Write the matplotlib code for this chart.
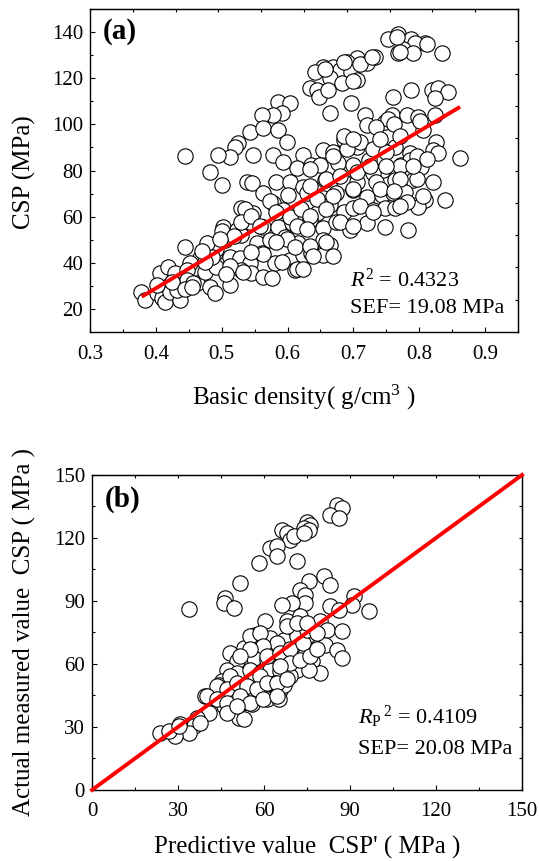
import numpy as np
import matplotlib
matplotlib.use("Agg")
import matplotlib.pyplot as plt

plt.rcParams['font.family'] = ['Liberation Serif', 'DejaVu Serif']
plt.rcParams['mathtext.fontset'] = 'custom'
plt.rcParams['mathtext.rm'] = 'Liberation Serif'
plt.rcParams['mathtext.it'] = 'Liberation Serif:italic'
plt.rcParams['mathtext.bf'] = 'Liberation Serif:bold'

# ---- panel (a): basic density vs CSP ----
# upper band
dens_up = [0.768, 0.753, 0.788, 0.809, 0.793, 0.776, 0.791, 0.768, 0.834, 0.733,
           0.705, 0.690, 0.720, 0.654, 0.669, 0.642, 0.680, 0.697, 0.664, 0.682,
           0.705, 0.634, 0.644, 0.647, 0.662, 0.664, 0.657, 0.685, 0.710, 0.700,
           0.728, 0.766, 0.771, 0.811]
csp_up = [139.3, 136.8, 136.8, 135.4, 135.4, 132.5, 131.1, 131.1, 131.1, 129.3,
          128.6, 127.2, 126.4, 125.0, 125.0, 122.8, 123.5, 122.8, 119.9, 117.8,
          119.2, 115.6, 114.9, 112.0, 114.9, 104.8, 124.0, 126.9, 126.1, 118.9,
          129.0, 137.7, 131.2, 134.8]
# upper-left band
dens_mid = [0.586, 0.604, 0.591, 0.578, 0.561, 0.543, 0.563, 0.586, 0.599, 0.525,
            0.520, 0.513, 0.548, 0.495, 0.444, 0.482, 0.500, 0.578, 0.593]
csp_mid = [109.8, 109.1, 104.8, 104.0, 104.0, 96.8, 98.3, 97.5, 92.5, 91.8,
           90.3, 86.0, 86.7, 86.7, 86.4, 79.5, 73.7, 86.7, 83.8]
# upper-right band
dens_right = [0.760, 0.788, 0.819, 0.829, 0.844, 0.824, 0.697, 0.717, 0.758, 0.781,
              0.798, 0.824, 0.720, 0.748, 0.806, 0.826, 0.821, 0.829, 0.862, 0.753,
              0.801, 0.735, 0.761, 0.685, 0.700, 0.740, 0.771, 0.811, 0.791]
csp_right = [112.0, 114.9, 114.9, 115.6, 114.2, 111.3, 109.1, 104.0, 104.0, 104.0,
             103.3, 104.0, 99.7, 101.2, 97.5, 92.5, 88.9, 87.4, 85.3, 102.3,
             101.6, 98.7, 100.1, 95.1, 93.6, 93.6, 95.1, 85.0, 82.1]
# main band
dens_main = [0.685, 0.705, 0.740, 0.763, 0.786, 0.654, 0.624, 0.669, 0.614, 0.636,
             0.649, 0.677, 0.700, 0.723, 0.745, 0.773, 0.803, 0.730, 0.786, 0.538,
             0.546, 0.583, 0.604, 0.624, 0.657, 0.685, 0.705, 0.735, 0.763, 0.791,
             0.821, 0.563, 0.601, 0.629, 0.654, 0.674, 0.700, 0.720, 0.743, 0.760,
             0.778, 0.801, 0.809, 0.839, 0.798, 0.530, 0.548, 0.578, 0.593, 0.616,
             0.644, 0.664, 0.685, 0.700, 0.730, 0.748, 0.763, 0.502, 0.523, 0.543,
             0.563, 0.586, 0.606, 0.634, 0.654, 0.674, 0.695, 0.720, 0.748, 0.783,
             0.487, 0.505, 0.530, 0.553, 0.573, 0.596, 0.616, 0.634, 0.654, 0.664,
             0.631, 0.467, 0.490, 0.513, 0.528, 0.543, 0.561, 0.581, 0.604, 0.624,
             0.636, 0.654, 0.591, 0.611, 0.452, 0.406, 0.419, 0.429, 0.447, 0.462,
             0.475, 0.492, 0.513, 0.482, 0.530, 0.545, 0.563, 0.576, 0.444, 0.490,
             0.437, 0.447, 0.378, 0.384, 0.401, 0.409, 0.414, 0.421, 0.437, 0.432,
             0.457, 0.500, 0.518, 0.535, 0.530, 0.545, 0.558, 0.573, 0.583, 0.604,
             0.621, 0.614, 0.599, 0.583, 0.563, 0.545, 0.513, 0.492, 0.485, 0.475,
             0.507, 0.533, 0.611, 0.614, 0.634, 0.669, 0.690, 0.710, 0.730, 0.750,
             0.771, 0.796, 0.634, 0.659, 0.680, 0.705, 0.725, 0.750, 0.771, 0.796,
             0.644, 0.669, 0.700, 0.740, 0.761, 0.781, 0.806, 0.634, 0.659, 0.710,
             0.730, 0.771, 0.629, 0.680, 0.700, 0.634, 0.659, 0.639, 0.669, 0.624,
             0.478, 0.497, 0.470, 0.401, 0.424, 0.445, 0.455]
csp_main = [93.2, 90.3, 89.6, 90.3, 87.4, 88.9, 86.7, 88.2, 80.9, 82.4,
            82.4, 83.1, 82.4, 84.5, 80.2, 82.4, 81.7, 78.8, 84.5, 75.2,
            74.5, 75.2, 75.2, 73.0, 75.9, 75.2, 75.2, 75.2, 75.9, 75.9,
            75.2, 70.1, 69.4, 70.1, 67.9, 70.1, 71.5, 68.7, 69.4, 70.1,
            70.8, 65.8, 67.2, 67.2, 64.3, 63.6, 61.4, 65.8, 62.9, 60.7,
            61.4, 65.0, 62.2, 63.6, 62.9, 63.6, 63.6, 55.7, 54.2, 57.8,
            55.7, 55.7, 57.1, 58.5, 54.9, 57.8, 54.2, 57.1, 55.7, 54.2,
            47.7, 49.9, 52.0, 48.4, 49.9, 51.3, 48.4, 47.0, 49.9, 47.7,
            44.1, 41.9, 44.1, 42.6, 41.9, 39.8, 44.1, 39.8, 41.2, 43.4,
            44.1, 43.4, 40.5, 36.9, 39.8, 35.4, 38.3, 35.4, 36.9, 31.1,
            36.1, 38.3, 30.4, 29.6, 36.9, 35.4, 34.0, 33.3, 47.0, 26.8,
            30.4, 32.5, 27.5, 23.9, 26.8, 24.6, 23.1, 27.5, 23.9, 28.2,
            31.1, 53.9, 51.8, 63.3, 57.5, 60.4, 56.1, 66.9, 61.9, 59.7,
            63.3, 56.1, 50.3, 48.9, 43.8, 44.5, 38.7, 46.0, 42.4, 40.2,
            35.1, 35.9, 46.7, 37.3, 80.6, 86.4, 89.3, 92.2, 89.3, 87.9,
            82.1, 86.4, 73.4, 76.3, 77.8, 79.2, 82.1, 82.1, 76.3, 76.3,
            67.6, 69.1, 72.0, 72.0, 71.3, 66.2, 69.1, 60.4, 63.3, 64.8,
            61.9, 64.8, 54.6, 57.5, 56.1, 47.4, 48.9, 43.1, 43.1, 37.3,
            48.6, 50.5, 45.2, 30.2, 31.5, 28.5, 29.5]
fit_a_x = [0.3785, 0.862]
fit_a_y = [25.3, 107.6]

# ---- panel (b): predicted vs measured CSP ----
pred = [85.5, 87.2, 83.1, 86.0, 75.0, 76.2, 73.8, 75.6, 66.3, 68.0,
        69.2, 70.3, 73.8, 62.2, 64.5, 64.5, 58.1, 71.5, 51.7, 46.5,
        45.9, 49.4, 33.7, 75.6, 80.8, 83.1, 72.7, 74.4, 74.4, 69.8,
        66.3, 91.3, 90.7, 96.5, 83.1, 86.0, 60.5, 68.0, 72.7, 69.2,
        73.8, 79.7, 82.0, 87.2, 57.0, 62.2, 66.9, 75.0, 81.4, 85.5,
        87.2, 48.3, 52.9, 57.6, 60.5, 56.4, 61.1, 64.5, 69.2, 73.8,
        76.7, 71.5, 79.7, 75.6, 50.6, 47.1, 50.6, 55.2, 58.7, 62.2,
        65.7, 69.2, 63.9, 60.5, 57.0, 52.9, 48.3, 45.3, 44.2, 65.7,
        66.9, 39.5, 42.4, 45.9, 49.4, 54.1, 57.0, 61.1, 65.1, 55.8,
        52.3, 47.1, 45.9, 40.7, 51.2, 52.9, 30.8, 36.6, 35.5, 33.7,
        29.1, 23.8, 26.7, 37.8, 30.2, 55.1, 58.6, 64.4, 59.8, 55.1,
        51.6, 60.9, 65.6, 69.1, 71.4, 73.7, 74.9, 78.4, 67.9, 71.4,
        74.9, 69.1, 72.6, 76.0, 78.4, 48.1, 58.6, 65.6, 43.5, 47.0,
        50.5, 54.0, 57.4, 60.9, 64.4, 67.9, 40.0, 43.5, 47.0, 51.6,
        55.1, 59.8, 64.4, 47.0, 50.5]
meas = [135.7, 134.2, 131.0, 129.4, 127.8, 126.2, 124.7, 123.9, 123.9, 122.3,
        119.1, 120.7, 122.3, 115.2, 116.0, 111.2, 108.3, 108.8, 98.5, 91.4,
        89.0, 86.6, 86.2, 99.3, 101.7, 97.7, 95.4, 93.0, 89.0, 89.0,
        88.2, 92.2, 88.2, 85.1, 87.4, 85.9, 80.3, 80.3, 82.7, 77.2,
        77.9, 80.3, 76.4, 75.6, 74.0, 72.4, 71.6, 73.2, 69.2, 66.8,
        62.9, 65.3, 67.6, 70.0, 67.6, 62.9, 62.1, 66.8, 62.9, 63.7,
        61.3, 57.3, 55.8, 57.3, 61.3, 57.3, 55.8, 57.3, 55.8, 57.3,
        56.5, 54.2, 51.0, 50.2, 52.6, 50.2, 48.6, 51.8, 50.2, 47.8,
        50.2, 44.7, 43.9, 45.5, 43.1, 44.7, 47.0, 43.1, 43.1, 40.7,
        41.5, 37.5, 39.9, 36.7, 34.4, 33.6, 31.2, 34.4, 30.4, 27.2,
        25.7, 27.2, 28.0, 32.0, 30.4, 73.2, 74.8, 70.0, 68.5, 66.9,
        63.7, 63.7, 65.3, 66.9, 73.2, 70.0, 76.4, 74.8, 78.0, 79.5,
        79.5, 60.5, 62.1, 63.7, 66.9, 54.2, 54.2, 59.0, 49.4, 47.9,
        51.0, 49.4, 47.9, 51.0, 51.0, 52.6, 44.7, 43.1, 41.5, 44.7,
        41.5, 43.1, 44.7, 36.8, 39.9]
ref_line = [0, 150]

fig = plt.figure(figsize=(5.39, 8.61), dpi=100)
ax1 = fig.add_axes([0.1670, 0.6144, 0.7941, 0.3751])
ax2 = fig.add_axes([0.1707, 0.0825, 0.7978, 0.3659])

mk = dict(s=122, facecolor='white', edgecolor='black', linewidths=0.8, zorder=2)


def frame_ticks(ax, xlim, ylim):
    # Origin-style extra ticks on top / right at every tenth of the frame
    ax.tick_params(which='both', direction='in', top=False, right=False,
                   labelsize=15, width=0.8)
    ax.tick_params(which='major', length=3.5)
    ax.tick_params(which='minor', length=2.2)
    ax.tick_params(axis='y', which='major', pad=5)
    ax.tick_params(axis='x', which='major', pad=9)
    top = ax.secondary_xaxis('top')
    top.set_xticks(np.linspace(xlim[0], xlim[1], 11)[1:-1])
    top.set_xticklabels([])
    top.tick_params(direction='in', length=2.5, width=0.8)
    rgt = ax.secondary_yaxis('right')
    rgt.set_yticks(np.linspace(ylim[0], ylim[1], 11)[1:-1])
    rgt.set_yticklabels([])
    rgt.tick_params(direction='in', length=2.5, width=0.8)
    for s in ax.spines.values():
        s.set_linewidth(1.0)


# panel (a)
for xs, ys in [(dens_main, csp_main), (dens_right, csp_right),
               (dens_mid, csp_mid), (dens_up, csp_up)]:
    ax1.scatter(xs, ys, **mk)
ax1.plot(fit_a_x, fit_a_y, color='#ff0000', lw=2.8, zorder=3,
         solid_capstyle='butt')
ax1.set_xlim(0.3, 0.95)
ax1.set_ylim(10, 150)
ax1.set_xticks([0.3, 0.4, 0.5, 0.6, 0.7, 0.8, 0.9])
ax1.set_xticks(np.arange(0.35, 0.95, 0.1), minor=True)
ax1.set_yticks([20, 40, 60, 80, 100, 120, 140])
ax1.set_yticks([30, 50, 70, 90, 110, 130, 150], minor=True)
frame_ticks(ax1, (0.3, 0.95), (10, 150))
ax1.text(0.03, 0.932, '(a)', transform=ax1.transAxes, fontsize=21,
         fontweight='bold', ha='left', va='center')
ax1.text(0.607, 0.161, '$R^2$ = 0.4323', transform=ax1.transAxes,
         fontsize=16, ha='left', va='center')
ax1.text(0.607, 0.074, 'SEF= 19.08 MPa', transform=ax1.transAxes,
         fontsize=16, ha='left', va='center')

# panel (b)
ax2.scatter(pred, meas, **mk)
ax2.plot(ref_line, ref_line, color='#ff0000', lw=2.8, zorder=3, clip_on=False)
ax2.set_xlim(0, 150)
ax2.set_ylim(0, 150)
ax2.set_xticks(np.arange(0, 151, 30))
ax2.set_xticks(np.arange(15, 150, 30), minor=True)
ax2.set_yticks(np.arange(0, 151, 30))
ax2.set_yticks(np.arange(15, 150, 30), minor=True)
frame_ticks(ax2, (0, 150), (0, 150))
ax2.text(0.03, 0.924, '(b)', transform=ax2.transAxes, fontsize=21,
         fontweight='bold', ha='left', va='center')
ax2.text(0.619, 0.232, r'$R_{\mathrm{P}}\,{}^{2}$ = 0.4109', transform=ax2.transAxes,
         fontsize=16, ha='left', va='center')
ax2.text(0.619, 0.127, 'SEP= 20.08 MPa', transform=ax2.transAxes,
         fontsize=16, ha='left', va='center')

# axis titles placed in figure pixels
W, H = 539, 861
fig.text(24 / W, 1 - 172 / H, 'CSP (MPa)', rotation=90, fontsize=18,
         ha='center', va='center')
fig.text(304 / W, 1 - 397 / H, 'Basic density( g/cm$^3$ )', fontsize=18,
         ha='center', va='center')
fig.text(24 / W, 1 - 632 / H, 'Actual measured value  CSP ( MPa )', rotation=90,
         fontsize=18, ha='center', va='center')
fig.text(307 / W, 1 - 847 / H, "Predictive value  CSP' ( MPa )", fontsize=18,
         ha='center', va='center')

fig.savefig('out.png', dpi=100)
